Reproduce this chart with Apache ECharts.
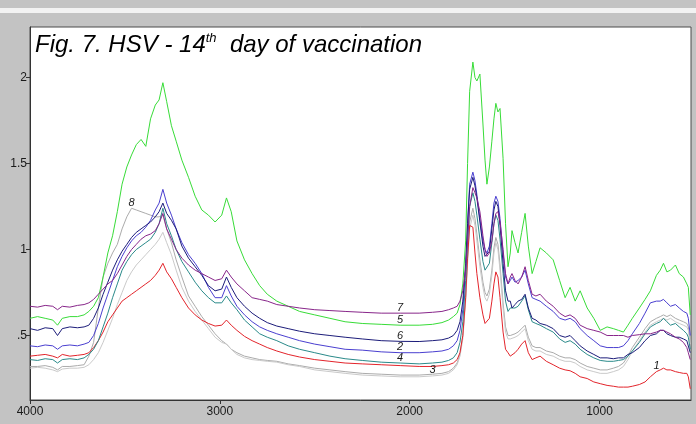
<!DOCTYPE html>
<html><head><meta charset="utf-8">
<script src="https://cdn.jsdelivr.net/npm/echarts@6/dist/echarts.min.js"></script>
<style>html,body{margin:0;padding:0;background:#c3c3c3}#c{width:696px;height:424px}</style>
</head><body><div id="c"></div>
<script>
// wavenumbers (cm-1)
const W = [
4000,3960,3920,3880,3855,3830,3790,3750,3715,
3690,3665,3640,3615,3590,3565,3540,3515,3490,3465,3440,3415,3390,3365,3340,3320,3300,
3280,3255,3230,3200,3165,3130,3095,3060,3025,2990,2965,2940,2910,2870,2830,2790,2750,2700,
2640,2580,2500,2420,2340,2250,2150,2050,1950,1880,1830,1795,1770,
1750,1735,1720,1705,1695,1684,1667,1656,1646,1630,1614,1603,1593,1580,1567,1556,1546,1535,1524,1508,1495,1482,
1470,1461,1445,1429,1410,1392,1375,1355,1335,1313,1280,1244,1210,1181,1155,1128,1102,1065,1030,996,960,927,900,874,850,827,790,760,732,700,680,663,645,626,600,580,558,540,532,522
];
const S1 = [ // red
0.38,0.385,0.39,0.38,0.37,0.39,0.38,0.385,0.39,
0.40,0.43,0.47,0.52,0.58,0.62,0.66,0.70,0.72,0.74,0.76,0.78,0.80,0.82,0.85,0.88,0.92,
0.87,0.83,0.78,0.72,0.66,0.62,0.59,0.57,0.555,0.56,0.59,0.56,0.53,0.495,0.47,0.45,0.43,0.41,
0.39,0.375,0.36,0.35,0.34,0.335,0.33,0.325,0.32,0.32,0.325,0.33,0.34,
0.36,0.40,0.50,0.72,0.95,1.14,1.13,0.98,0.86,0.72,0.62,0.57,0.56,0.60,0.70,0.80,0.87,0.84,0.72,0.52,0.42,0.40,
0.38,0.37,0.40,0.42,0.45,0.47,0.40,0.36,0.37,0.38,0.35,0.33,0.31,0.30,0.295,0.28,0.26,0.25,0.23,0.22,0.21,0.205,0.20,0.20,0.20,0.205,0.215,0.23,0.26,0.29,0.30,0.31,0.30,0.30,0.29,0.285,0.28,0.28,0.26,0.19
];
const S2 = [ // blue
0.44,0.435,0.445,0.44,0.42,0.44,0.445,0.44,0.45,
0.46,0.50,0.57,0.66,0.74,0.82,0.90,0.96,1.01,1.05,1.08,1.10,1.13,1.17,1.23,1.27,1.35,
1.27,1.20,1.12,1.04,0.97,0.92,0.86,0.78,0.72,0.72,0.79,0.73,0.67,0.62,0.58,0.55,0.53,0.51,
0.49,0.47,0.45,0.435,0.42,0.415,0.405,0.40,0.40,0.405,0.41,0.42,0.44,
0.47,0.53,0.65,0.90,1.15,1.38,1.45,1.40,1.32,1.18,1.05,1.00,0.98,1.02,1.15,1.27,1.31,1.28,1.18,0.98,0.84,0.80,
0.82,0.84,0.81,0.82,0.84,0.88,0.80,0.72,0.71,0.70,0.67,0.64,0.60,0.59,0.60,0.58,0.54,0.50,0.47,0.44,0.43,0.43,0.43,0.44,0.47,0.51,0.57,0.63,0.69,0.70,0.70,0.71,0.69,0.67,0.68,0.66,0.64,0.63,0.60,0.50
];
const S3 = [ // light grey
0.31,0.315,0.31,0.30,0.29,0.305,0.31,0.31,0.315,
0.33,0.36,0.40,0.46,0.53,0.60,0.68,0.75,0.82,0.87,0.91,0.94,0.97,1.00,1.03,1.06,1.10,
1.04,0.97,0.88,0.78,0.70,0.64,0.59,0.54,0.49,0.46,0.45,0.42,0.39,0.37,0.36,0.355,0.35,0.345,
0.33,0.32,0.30,0.29,0.28,0.27,0.265,0.26,0.26,0.265,0.27,0.28,0.30,
0.33,0.38,0.48,0.70,0.92,1.12,1.20,1.14,1.05,0.90,0.78,0.72,0.70,0.74,0.85,0.98,1.04,1.00,0.88,0.66,0.52,0.48,
0.48,0.47,0.49,0.50,0.52,0.54,0.47,0.42,0.41,0.41,0.39,0.38,0.36,0.35,0.35,0.34,0.32,0.30,0.29,0.28,0.28,0.29,0.30,0.32,0.36,0.41,0.47,0.52,0.56,0.58,0.59,0.60,0.59,0.60,0.58,0.57,0.56,0.55,0.53,0.45
];
const S4 = [ // teal
0.36,0.355,0.365,0.36,0.34,0.36,0.365,0.36,0.37,
0.39,0.42,0.47,0.55,0.63,0.72,0.80,0.88,0.93,0.97,1.00,1.02,1.04,1.06,1.10,1.15,1.24,
1.15,1.08,1.00,0.93,0.87,0.81,0.76,0.72,0.69,0.69,0.73,0.69,0.65,0.59,0.55,0.51,0.49,0.47,
0.44,0.42,0.40,0.38,0.365,0.355,0.345,0.34,0.335,0.34,0.345,0.355,0.37,
0.40,0.46,0.58,0.82,1.05,1.25,1.33,1.28,1.20,1.06,0.93,0.88,0.87,0.92,1.04,1.15,1.20,1.17,1.06,0.86,0.70,0.64,
0.66,0.65,0.66,0.67,0.70,0.73,0.65,0.58,0.57,0.56,0.54,0.52,0.48,0.46,0.47,0.45,0.42,0.39,0.37,0.355,0.35,0.35,0.355,0.36,0.38,0.41,0.46,0.51,0.55,0.57,0.58,0.60,0.58,0.56,0.57,0.55,0.53,0.51,0.49,0.42
];
const S5 = [ // green
0.60,0.61,0.60,0.59,0.56,0.60,0.61,0.61,0.62,
0.64,0.67,0.72,0.84,0.98,1.08,1.22,1.38,1.48,1.55,1.61,1.64,1.60,1.76,1.84,1.87,1.97,
1.86,1.72,1.63,1.52,1.42,1.31,1.23,1.20,1.16,1.20,1.30,1.22,1.05,0.94,0.86,0.79,0.74,0.70,
0.67,0.64,0.62,0.60,0.58,0.57,0.565,0.56,0.56,0.565,0.575,0.59,0.61,
0.63,0.68,0.80,1.05,1.50,1.92,2.09,2.00,1.98,2.02,1.73,1.52,1.38,1.48,1.63,1.76,1.85,1.80,1.82,1.53,1.15,0.90,
0.98,1.11,1.04,0.98,1.10,1.21,1.02,0.86,0.93,1.01,0.98,0.94,0.82,0.72,0.78,0.70,0.76,0.66,0.60,0.53,0.55,0.54,0.53,0.52,0.56,0.60,0.66,0.71,0.76,0.85,0.88,0.92,0.87,0.88,0.91,0.86,0.84,0.80,0.78,0.62
];
const S6 = [ // navy
0.54,0.53,0.545,0.54,0.50,0.54,0.55,0.545,0.55,
0.56,0.60,0.66,0.74,0.81,0.88,0.94,0.99,1.03,1.07,1.10,1.12,1.14,1.16,1.19,1.22,1.27,
1.21,1.17,1.12,1.02,0.95,0.90,0.85,0.79,0.76,0.77,0.84,0.78,0.72,0.67,0.63,0.60,0.575,0.555,
0.54,0.525,0.51,0.50,0.49,0.48,0.47,0.466,0.465,0.47,0.475,0.485,0.50,
0.53,0.58,0.70,0.92,1.15,1.35,1.42,1.37,1.30,1.16,1.02,0.96,0.95,0.99,1.12,1.23,1.28,1.25,1.14,0.92,0.76,0.70,
0.70,0.66,0.68,0.70,0.71,0.74,0.66,0.60,0.59,0.57,0.56,0.54,0.50,0.49,0.50,0.47,0.44,0.41,0.39,0.37,0.37,0.365,0.37,0.37,0.39,0.40,0.43,0.47,0.50,0.51,0.53,0.53,0.51,0.50,0.49,0.49,0.48,0.47,0.46,0.40
];
const S7 = [ // purple
0.67,0.665,0.675,0.67,0.65,0.67,0.665,0.675,0.68,
0.69,0.71,0.74,0.77,0.80,0.82,0.86,0.91,0.96,1.00,1.03,1.06,1.08,1.09,1.11,1.15,1.21,
1.12,1.06,1.00,0.95,0.91,0.88,0.86,0.84,0.82,0.83,0.88,0.84,0.80,0.76,0.72,0.71,0.70,0.68,
0.67,0.66,0.65,0.645,0.64,0.635,0.63,0.63,0.63,0.635,0.64,0.65,0.66,
0.67,0.70,0.76,0.88,1.05,1.25,1.36,1.33,1.30,1.22,1.08,1.00,0.96,0.98,1.05,1.15,1.21,1.22,1.16,1.00,0.86,0.80,
0.84,0.86,0.82,0.80,0.84,0.90,0.82,0.74,0.73,0.74,0.70,0.67,0.63,0.61,0.62,0.60,0.56,0.54,0.53,0.52,0.50,0.50,0.50,0.50,0.49,0.50,0.505,0.51,0.51,0.52,0.53,0.53,0.52,0.51,0.49,0.48,0.46,0.43,0.40,0.36
];
const S8 = [ // grey
0.32,0.32,0.325,0.315,0.30,0.32,0.32,0.325,0.33,
0.38,0.46,0.66,0.84,0.92,0.98,1.03,1.12,1.19,1.24,1.23,1.22,1.21,1.20,1.19,1.19,1.20,
1.12,1.04,0.94,0.84,0.73,0.67,0.61,0.56,0.51,0.47,0.45,0.42,0.40,0.38,0.37,0.36,0.355,0.35,
0.335,0.325,0.31,0.30,0.29,0.28,0.275,0.27,0.27,0.275,0.28,0.29,0.31,
0.34,0.39,0.50,0.73,0.96,1.16,1.24,1.18,1.09,0.94,0.81,0.75,0.73,0.77,0.88,1.01,1.07,1.03,0.91,0.69,0.55,0.50,
0.50,0.49,0.51,0.52,0.54,0.56,0.49,0.44,0.43,0.43,0.41,0.40,0.38,0.37,0.37,0.36,0.34,0.32,0.31,0.30,0.30,0.31,0.32,0.34,0.38,0.43,0.49,0.54,0.58,0.60,0.61,0.62,0.61,0.62,0.60,0.59,0.58,0.57,0.55,0.47
];
const X_TICKS = [1000, 2000, 3000, 4000];
const Y_TICKS = [0.5, 1, 1.5, 2];
const CURVE_NAMES = ['8','3','1','4','2','6','5','7'];
const LABEL_AT = {'1':700,'2':2050,'3':1880,'4':2050,'5':2050,'6':2050,'7':2050,'8':3465};

const DATA = {'1':S1,'2':S2,'3':S3,'4':S4,'5':S5,'6':S6,'7':S7,'8':S8};
const COLORS = {'1':'#e3242b','2':'#4a3fd0','3':'#cacaca','4':'#2a8a8a','5':'#38dc38','6':'#1c1c7a','7':'#88268a','8':'#ababab'};

const series = CURVE_NAMES.map(n => {
  const d = DATA[n];
  const i = W.indexOf(LABEL_AT[n]);
  return {
    type: 'line', name: n, showSymbol: false, symbol: 'none', smooth: false,
    lineStyle: {width: 1, color: COLORS[n]}, itemStyle: {color: COLORS[n]},
    data: W.map((w, k) => [w, d[k]]),
    markPoint: {
      silent: true, symbol: 'circle', symbolSize: 0,
      label: {show: true, formatter: n, position: 'top', distance: 0,
        color: '#1a1a1a', fontSize: 11, fontStyle: 'italic', fontFamily: 'Liberation Sans'},
      data: [{coord: [W[i], d[i]]}]
    }
  };
});

const chart = echarts.init(document.getElementById('c'), null, {renderer: 'canvas'});
chart.setOption({
  animation: false,
  backgroundColor: '#c3c3c3',
  graphic: [
    {type: 'rect', shape: {x: 0, y: 8, width: 696, height: 5}, style: {fill: '#f2f2f2'}, silent: true}
  ],
  title: {
    text: '{a|Fig. 7. HSV - 14}{s|th}{a|  day of vaccination}',
    left: 35, top: 32, padding: 0,
    textStyle: {fontWeight: 'normal', rich: {
      a: {fontSize: 24, fontStyle: 'italic', fontWeight: 'normal', fontFamily: 'Liberation Sans', color: '#000', lineHeight: 26},
      s: {fontSize: 13, fontStyle: 'italic', fontWeight: 'normal', fontFamily: 'Liberation Sans', color: '#000', lineHeight: 14, verticalAlign: 'top'}
    }}
  },
  grid: {left: 30, right: 5, top: 27, bottom: 24, show: true, backgroundColor: '#ffffff',
    borderColor: '#4a4a4a', borderWidth: 1, containLabel: false},
  xAxis: {
    type: 'value', inverse: true, min: 518, max: 4000,
    axisLine: {show: true, onZero: false, lineStyle: {color: '#333', width: 1}},
    axisTick: {show: true, length: 4, lineStyle: {color: '#333'}, customValues: X_TICKS},
    axisLabel: {customValues: X_TICKS, color: '#1a1a1a', fontSize: 12, fontFamily: 'Liberation Sans', margin: 6,
      formatter: v => String(v)},
    splitLine: {show: false}
  },
  yAxis: {
    type: 'value', min: 0.125, max: 2.294,
    axisLine: {show: true, lineStyle: {color: '#333', width: 1}},
    axisTick: {show: true, length: 4, lineStyle: {color: '#333'}, customValues: Y_TICKS},
    axisLabel: {customValues: Y_TICKS, color: '#1a1a1a', fontSize: 12, fontFamily: 'Liberation Sans', margin: 3,
      formatter: v => (v === 0.5 ? '.5' : String(v))},
    splitLine: {show: false}
  },
  series: series
});
</script>
</body></html>
